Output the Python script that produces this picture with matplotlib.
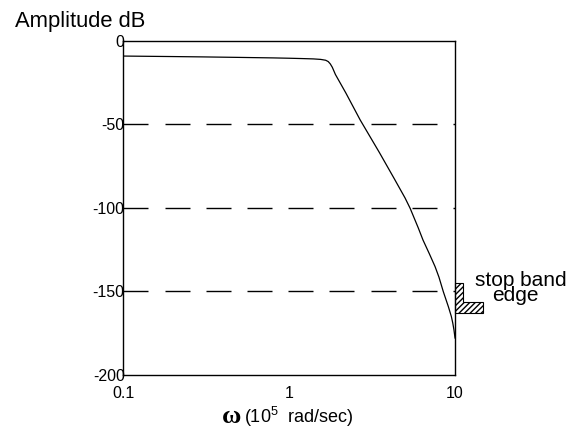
import matplotlib
matplotlib.use('Agg')
import matplotlib.pyplot as plt
import numpy as np
from matplotlib.patches import Polygon

plt.rcParams['font.family'] = ['Liberation Sans', 'DejaVu Sans']
plt.rcParams['mathtext.fontset'] = 'custom'
plt.rcParams['mathtext.rm'] = 'Liberation Sans'
plt.rcParams['axes.unicode_minus'] = False

# frequency (10^5 rad/sec) and amplitude (dB)
freq = [0.1, 0.2, 0.3, 0.5, 0.8, 1.0, 1.2, 1.4, 1.55, 1.66, 1.72, 1.77, 1.82,
        1.9, 2.2, 2.68, 3.5, 4.3, 5.0, 5.36, 6.0, 6.41, 7.0, 7.58, 8.0, 8.5,
        9.12, 9.5, 9.69, 9.85, 10.0]
amp_db = [-9.3, -9.6, -9.8, -10.1, -10.4, -10.6, -10.8, -11.0, -11.3, -11.8,
          -12.6, -14.0, -16.0, -20.3, -31.5, -47.5, -67.0, -82.6, -94.2,
          -100.3, -112.0, -119.3, -127.5, -135.2, -141.5, -150.2, -159.2,
          -165.0, -168.9, -173.0, -177.9]

grid_db = [-50, -100, -150]
xticks = [0.1, 1, 10]
xtick_labels = ['0.1', '1', '10']
yticks = [0, -50, -100, -150, -200]

# stop band edge marker (at w = 10)
sb_freq = 10
sb_top, sb_mid, sb_bot = -144.8, -156.5, -162.7
sb_narrow, sb_wide = 11.13, 14.83

W, H, DPI = 5.83, 4.37, 100
ax_rect = [0.2115, 0.1419, 0.569, 0.7654]
dash_px, gap_px = 25, 16.2

fig = plt.figure(figsize=(W, H), dpi=DPI)
ax = fig.add_axes(ax_rect)

ax.plot(freq, amp_db, color='k', lw=0.9)

# dashed level lines drawn as short solid pieces (axes-fraction x)
ax_px = W * DPI * ax_rect[2]
starts = np.arange(0, ax_px, dash_px + gap_px) / ax_px
ends = np.minimum(starts + dash_px / ax_px, 1)
yt = ax.get_yaxis_transform()
for g in grid_db:
    ax.hlines([g] * len(starts), starts, ends, transform=yt, colors='k', lw=1.0)

ax.set_xscale('log')
ax.set_xlim(0.1, 10)
ax.set_ylim(-200, 0)
ax.set_xticks(xticks)
ax.set_xticklabels(xtick_labels)
ax.minorticks_off()
ax.set_yticks(yticks)
ax.tick_params(axis='both', length=0, labelsize=11.5)
ax.tick_params(axis='y', pad=-1)
ax.tick_params(axis='x', pad=8)
for s in ax.spines.values():
    s.set_linewidth(1.0)

# hatched L shape
verts = [(sb_freq, sb_top), (sb_narrow, sb_top), (sb_narrow, sb_mid),
         (sb_wide, sb_mid), (sb_wide, sb_bot), (sb_freq, sb_bot)]
ax.add_patch(Polygon(verts, closed=True, facecolor='white', edgecolor='k',
                     hatch='//////', lw=0.8, clip_on=False))
ax.text(13.2, -146.8, 'stop band', fontsize=15, ha='left', va='baseline')
ax.text(16.7, -155.6, 'edge', fontsize=15, ha='left', va='baseline')

fig.text(0.026, 0.938, 'Amplitude dB', fontsize=15.8, ha='left', va='baseline')

# x label: omega in serif, rest in sans
fig.text(0.380, 0.032, '\u03c9', fontsize=19, family='Liberation Serif',
         fontweight='bold', ha='left', va='baseline')
fig.text(0.419, 0.032, r'$\mathregular{(10^5}$  rad/sec)', fontsize=13,
         ha='left', va='baseline')

fig.savefig('out.png', dpi=DPI)
